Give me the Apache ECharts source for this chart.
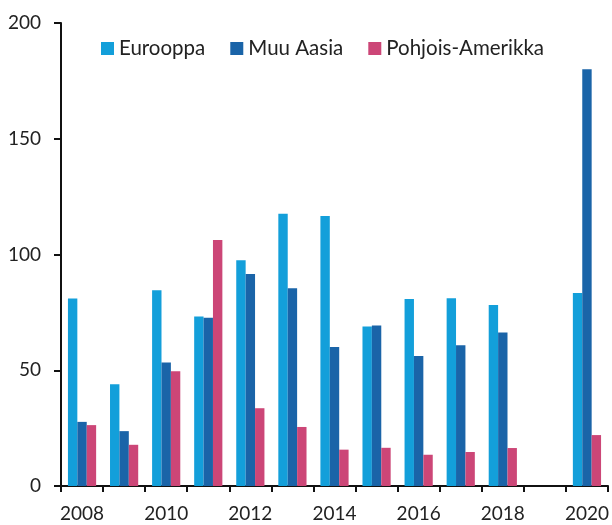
<!DOCTYPE html>
<html>
<head>
<meta charset="utf-8">
<script src="https://cdn.jsdelivr.net/npm/echarts@6/dist/echarts.min.js"></script>
<style>
  html, body { margin: 0; padding: 0; background: #fff; }
  #chart { width: 612px; height: 525px; }
</style>
</head>
<body>
<div id="chart"></div>
<script>
// Data (2019 has no values)
var years = ['2008', '2009', '2010', '2011', '2012', '2013', '2014', '2015', '2016', '2017', '2018', '2019', '2020'];
var eurooppa = [81, 44, 84.6, 73.2, 97.5, 117.6, 116.6, 68.9, 80.8, 81.1, 78.2, null, 83.4];
var muuAasia = [27.7, 23.7, 53.3, 72.7, 91.6, 85.4, 60, 69.3, 56.2, 60.8, 66.3, null, 180];
var pohjoisAmerikka = [26.3, 17.8, 49.6, 106.3, 33.6, 25.5, 15.7, 16.5, 13.5, 14.7, 16.4, null, 22];
var seriesNames = ['Eurooppa', 'Muu Aasia', 'Pohjois-Amerikka'];
var colors = ['#139fda', '#1a64a8', '#cc4677'];

var fontFamily = 'Lato, "Open Sans", sans-serif';

function barSeries(name, data, color) {
    return {
        name: name,
        type: 'bar',
        data: data,
        barGap: '0%',
        barCategoryGap: '33%',
        itemStyle: { color: color },
        emphasis: { disabled: true }
    };
}

var chart = echarts.init(document.getElementById('chart'));
chart.setOption({
    animation: false,
    textStyle: { fontFamily: fontFamily },
    color: colors,
    grid: { left: 61, right: 4, top: 23, bottom: 39, containLabel: false },
    legend: {
        data: seriesNames,
        left: 96,
        top: 33,
        icon: 'rect',
        itemWidth: 13,
        itemHeight: 13,
        itemGap: 25,
        textStyle: { fontSize: 20.5, color: '#222', fontFamily: fontFamily }
    },
    xAxis: {
        type: 'category',
        data: years,
        axisLine: { lineStyle: { color: '#111', width: 2 } },
        axisTick: { show: true, length: 6, alignWithLabel: false, interval: 0, lineStyle: { color: '#111', width: 2 } },
        axisLabel: { interval: 1, margin: 18, fontSize: 19, color: '#222' },
        splitLine: { show: false }
    },
    yAxis: {
        type: 'value',
        min: 0,
        max: 200,
        interval: 50,
        axisLine: { show: true, lineStyle: { color: '#111', width: 2 } },
        axisTick: { show: true, length: 7, lineStyle: { color: '#111', width: 2 } },
        axisLabel: { margin: 20, fontSize: 19, color: '#222' },
        splitLine: { show: false }
    },
    series: [
        barSeries(seriesNames[0], eurooppa, colors[0]),
        barSeries(seriesNames[1], muuAasia, colors[1]),
        barSeries(seriesNames[2], pohjoisAmerikka, colors[2])
    ]
});
</script>
</body>
</html>
